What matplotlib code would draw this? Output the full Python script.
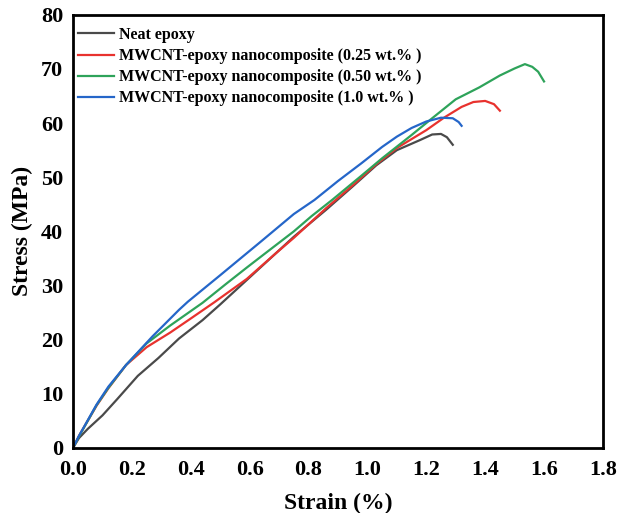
import matplotlib
matplotlib.use("Agg")
import matplotlib.pyplot as plt
from matplotlib.ticker import FormatStrFormatter

# tensile curves (strain %, stress MPa)
neat_strain = [0, 0.02, 0.05, 0.08, 0.10, 0.15, 0.22, 0.29, 0.36, 0.44, 0.50, 0.59, 0.67,
               0.75, 0.86, 0.95, 1.03, 1.10, 1.18, 1.22, 1.25, 1.27, 1.29]
neat_stress = [0, 1.8, 3.5, 5.0, 6.0, 9.0, 13.3, 16.6, 20.2, 23.6, 26.5, 31.0, 35.0,
               39.0, 44.0, 48.3, 52.2, 55.0, 56.9, 57.9, 58.0, 57.4, 56.0]

red_strain = [0, 0.02, 0.05, 0.08, 0.12, 0.18, 0.25, 0.33, 0.40, 0.48, 0.59, 0.69, 0.75,
              0.86, 0.95, 1.03, 1.10, 1.20, 1.26, 1.32, 1.36, 1.40, 1.43, 1.45]
red_stress = [0, 2.2, 5.0, 7.8, 11.0, 15.3, 18.6, 21.3, 23.9, 26.9, 31.2, 36.0, 38.8,
              44.3, 48.5, 52.4, 55.4, 58.7, 61.0, 63.0, 63.9, 64.1, 63.5, 62.3]

green_strain = [0, 0.02, 0.05, 0.08, 0.12, 0.18, 0.25, 0.33, 0.44, 0.52, 0.59, 0.64, 0.75,
                0.81, 0.88, 0.98, 1.05, 1.15, 1.22, 1.30, 1.38, 1.45, 1.50, 1.535, 1.56,
                1.58, 1.60]
green_stress = [0, 2.1, 5.0, 7.9, 11.1, 15.3, 19.3, 22.6, 26.8, 30.3, 33.3, 35.4, 40.0,
                42.8, 45.8, 50.3, 53.5, 57.8, 60.9, 64.4, 66.6, 68.8, 70.1, 70.9, 70.4,
                69.5, 67.7]

blue_strain = [0, 0.02, 0.05, 0.08, 0.12, 0.18, 0.27, 0.36, 0.39, 0.50, 0.64, 0.75, 0.82,
               0.90, 0.98, 1.05, 1.10, 1.15, 1.20, 1.25, 1.29, 1.31, 1.32]
blue_stress = [0, 2.2, 5.1, 8.0, 11.3, 15.3, 20.6, 25.5, 27.0, 31.9, 38.2, 43.2, 45.8,
               49.3, 52.6, 55.6, 57.5, 59.1, 60.3, 61.0, 60.9, 60.2, 59.5]

labels = ["Neat epoxy",
          "MWCNT-epoxy nanocomposite (0.25 wt.% )",
          "MWCNT-epoxy nanocomposite (0.50 wt.% )",
          "MWCNT-epoxy nanocomposite (1.0 wt.% )"]
colors = ["#4a4a4a", "#e8322e", "#2ea35a", "#2566c9"]

plt.rcParams["font.family"] = ["Liberation Serif", "DejaVu Serif"]
plt.rcParams["font.weight"] = "bold"

fig = plt.figure(figsize=(6.19, 5.13), dpi=100)
ax = fig.add_axes([0.118, 0.127, 0.856, 0.844])

curves = [(neat_strain, neat_stress), (red_strain, red_stress),
          (green_strain, green_stress), (blue_strain, blue_stress)]
for (x, y), lab, c in zip(curves, labels, colors):
    ax.plot(x, y, color=c, lw=1.6, label=lab)

ax.set_xlim(0, 1.8)
ax.set_ylim(0, 80)
ax.set_xticks([0, 0.2, 0.4, 0.6, 0.8, 1.0, 1.2, 1.4, 1.6, 1.8])
ax.set_yticks(range(0, 81, 10))
ax.xaxis.set_major_formatter(FormatStrFormatter("%.1f"))
ax.tick_params(length=0, labelsize=16)
ax.tick_params(axis="x", pad=9)
ax.tick_params(axis="y", pad=7)
for t in ax.get_xticklabels() + ax.get_yticklabels():
    t.set_fontweight("bold")
for s in ax.spines.values():
    s.set_linewidth(2)

ax.set_xlabel("Strain (%)", fontsize=17, fontweight="bold", labelpad=9)
ax.set_ylabel("Stress (MPa)", fontsize=17, fontweight="bold", labelpad=6)

ax.legend(loc="upper left", bbox_to_anchor=(0.01, 0.972), frameon=False,
          handlelength=2.25, handletextpad=0.3, labelspacing=0.32,
          borderpad=0, borderaxespad=0, prop={"weight": "bold", "size": 11.5})

fig.savefig("out.png", dpi=100)
